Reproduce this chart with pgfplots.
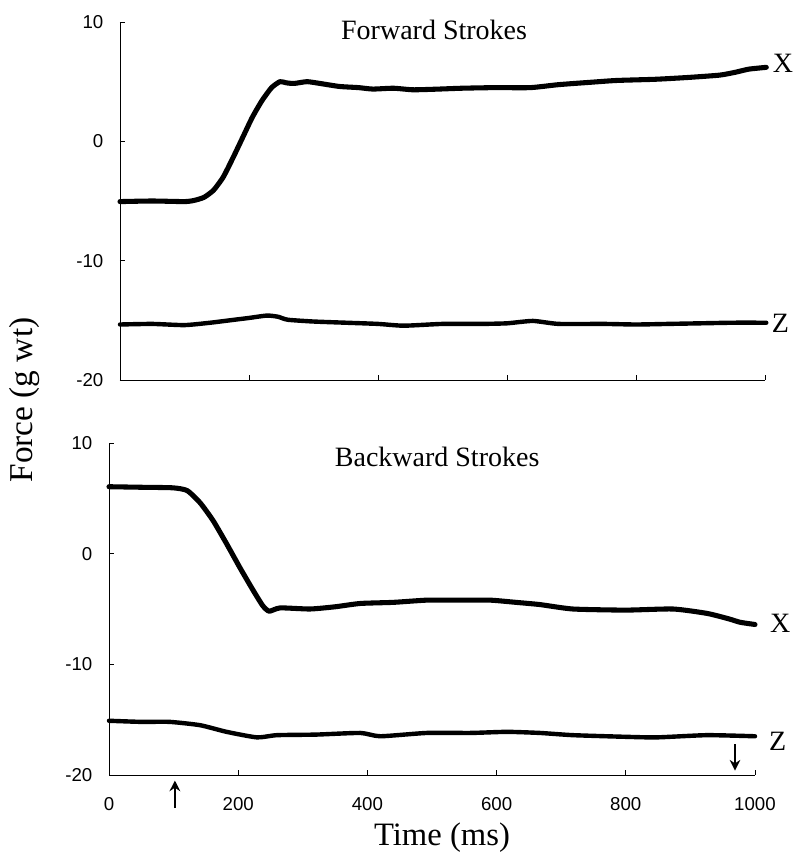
\documentclass[border=0pt]{standalone}
\usepackage{fontspec}
\setmainfont{Liberation Serif}
\newfontfamily\arialf{Liberation Sans}
\usepackage{pgfplots}
\pgfplotsset{compat=1.18}
\usetikzlibrary{arrows.meta}
\pgfplotsset{
  myax/.style={
    scale only axis,
    axis x line=bottom, axis y line=left,
    axis line style={-, line width=0.7pt},
    xmin=0, xmax=1000, ymin=-20, ymax=10,
    xtick={0,200,400,600,800,1000},
    ytick={-20,-10,0,10},
    yticklabels={-20,-10,0,10},
    tick align=inside, major tick length=3.5pt,
    tick style={line width=0.7pt, black},
    /pgf/number format/assume math mode=true,
    ticklabel style={font=\arialf\fontsize{14}{16}\selectfont},
    yticklabel style={xshift=-9pt},
    clip=false,
  },
  xc/.style={black, line width=3.8pt, line join=round, line cap=round, smooth, tension=0.35},
  zc/.style={black, line width=3.3pt, line join=round, line cap=round, smooth, tension=0.35},
}
\begin{document}
\begin{tikzpicture}
\path[use as bounding box] (0,0) rectangle (597pt,640.5pt);
% top axis
\begin{axis}[myax, at={(90pt,355.5pt)}, anchor=south west, width=483.75pt, height=268.5pt,
  xticklabels={}]
\addplot[xc] coordinates {
(0,-5.05) (50,-5.0) (100,-5.05) (115,-4.95) (130,-4.7) (145,-4.1) (160,-3.0)
(175,-1.4) (190,0.3) (205,2.0) (220,3.4) (235,4.5) (248,5.0) (258,4.9) (270,4.85)
(290,5.0) (310,4.85) (340,4.6) (370,4.5) (392,4.38) (424,4.45) (454,4.32) (490,4.37)
(530,4.45) (580,4.5) (636,4.5) (680,4.75) (730,4.95) (770,5.1) (830,5.2) (880,5.35)
(930,5.55) (955,5.8) (975,6.05) (1002,6.2)};
\addplot[zc] coordinates {
(0,-15.35) (50,-15.3) (100,-15.4) (140,-15.2) (170,-15.0) (200,-14.8) (228,-14.6)
(245,-14.7) (260,-14.95) (300,-15.1) (350,-15.2) (400,-15.3) (440,-15.45) (500,-15.3)
(560,-15.3) (600,-15.25) (640,-15.05) (680,-15.3) (750,-15.3) (800,-15.35) (850,-15.3)
(900,-15.25) (950,-15.2) (1002,-15.2)};
\node[anchor=base, font=\fontsize{21}{24}\selectfont] at (axis cs:487,8.5) {Forward Strokes};
\node[font=\fontsize{21}{24}\selectfont] at (axis cs:1028,6.5) {X};
\node[font=\fontsize{21}{24}\selectfont] at (axis cs:1024,-15.25) {Z};
\end{axis}
% bottom axis
\begin{axis}[myax, at={(81.75pt,59.25pt)}, anchor=south west, width=484.5pt, height=249pt,
  xticklabels={0,200,400,600,800,1000},
  xticklabel style={yshift=-13pt}]
\addplot[xc] coordinates {
(0,6.05) (50,6.0) (99,5.95) (121,5.7) (141,4.6) (161,3.0) (182,0.9) (203,-1.3)
(223,-3.3) (238,-4.7) (248,-5.2) (265,-4.9) (311,-5.0) (350,-4.8) (389,-4.5)
(440,-4.4) (492,-4.2) (540,-4.2) (590,-4.2) (630,-4.4) (667,-4.6) (718,-5.0)
(800,-5.1) (873,-5.0) (926,-5.4) (960,-5.9) (977,-6.2) (1000,-6.4)};
\addplot[zc] coordinates {
(0,-15.1) (50,-15.2) (94,-15.2) (141,-15.5) (182,-16.1) (229,-16.6) (260,-16.4)
(320,-16.35) (389,-16.2) (420,-16.5) (492,-16.2) (560,-16.2) (616,-16.1) (667,-16.2)
(718,-16.4) (800,-16.55) (848,-16.6) (926,-16.4) (1000,-16.5)};
\node[anchor=base, font=\fontsize{21}{24}\selectfont] at (axis cs:508,7.9) {Backward Strokes};
\node[font=\fontsize{21}{24}\selectfont] at (axis cs:1039,-6.3) {X};
\node[font=\fontsize{21}{24}\selectfont] at (axis cs:1035,-17.0) {Z};
\draw[-{Stealth[length=8pt,width=8pt]}, line width=1.5pt] (axis cs:102,-23.0) -- (axis cs:102,-20.5);
\draw[-{Stealth[length=8pt,width=8pt]}, line width=1.5pt] (axis cs:969,-17.2) -- (axis cs:969,-19.6);
\end{axis}
\node[rotate=90, font=\fontsize{25}{28}\selectfont] at (18.75pt,340.5pt) {Force (g wt)};
\node[font=\fontsize{24.5}{28}\selectfont] at (331.5pt,12pt) {Time (ms)};
\end{tikzpicture}
\end{document}
